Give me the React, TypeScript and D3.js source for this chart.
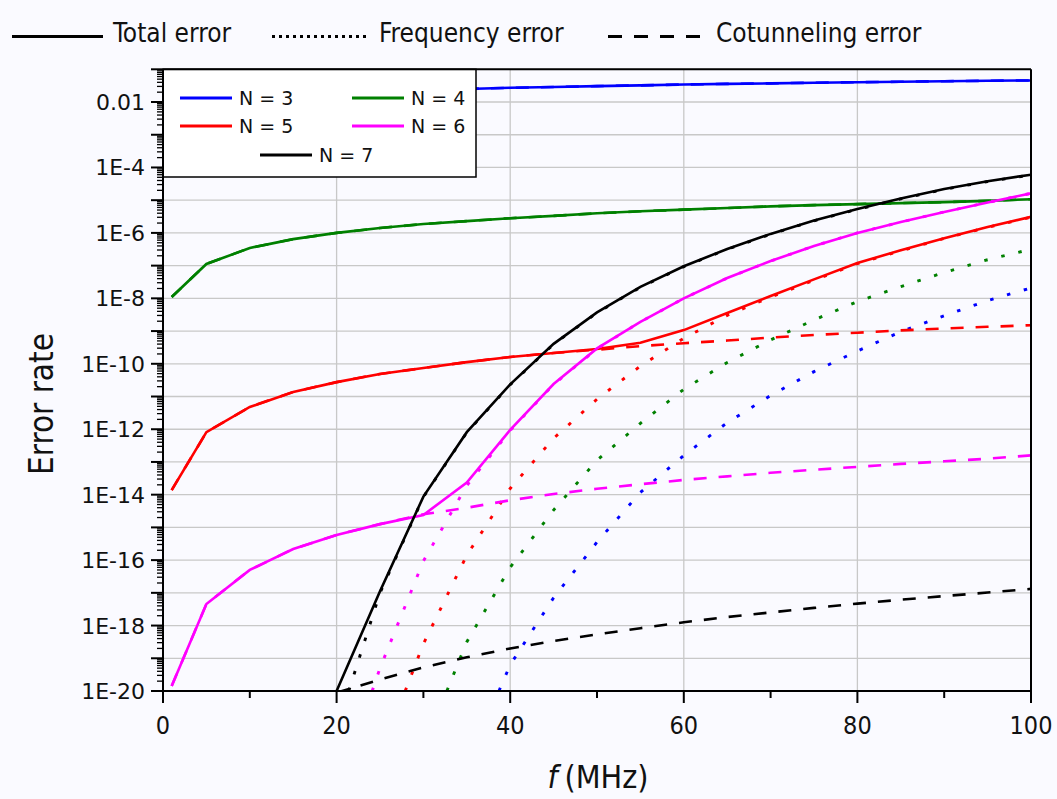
import * as d3 from 'd3';

// frequency grid (MHz) used by total / cotunneling curves
const fGrid = [1, 5, 10, 15, 20, 25, 30, 35, 40, 45, 50, 55, 60, 65, 70, 75, 80, 85, 90, 95, 100];
const fGrid7 = [20, 25, 30, 35, 40, 45, 50, 55, 60, 65, 70, 75, 80, 85, 90, 95, 100];

// all values are log10(error rate)
const total3 = [-2.9, -2.35, -2.1, -1.93, -1.82, -1.73, -1.66, -1.6, -1.565, -1.54, -1.515, -1.49, -1.465, -1.445, -1.43, -1.41, -1.395, -1.38, -1.365, -1.35, -1.34];
const total4 = [-7.96, -6.95, -6.46, -6.19, -6.0, -5.85, -5.73, -5.64, -5.55, -5.48, -5.4, -5.34, -5.29, -5.24, -5.19, -5.15, -5.12, -5.09, -5.06, -5.02, -4.97];
const total5 = [-13.86, -12.09, -11.32, -10.86, -10.56, -10.31, -10.13, -9.95, -9.79, -9.67, -9.55, -9.36, -8.97, -8.45, -7.93, -7.42, -6.92, -6.53, -6.16, -5.82, -5.51];
const total6 = [-19.85, -17.34, -16.3, -15.66, -15.23, -14.9, -14.62, -13.63, -12.02, -10.62, -9.53, -8.72, -8.0, -7.38, -6.86, -6.4, -6.0, -5.67, -5.36, -5.07, -4.79];
const total7 = [-20.0, -16.95, -14.06, -12.09, -10.63, -9.39, -8.43, -7.65, -7.02, -6.49, -6.03, -5.62, -5.27, -4.95, -4.66, -4.42, -4.22];

const cot3 = total3;
const cot4 = total4;
const cot5 = [-13.86, -12.09, -11.32, -10.86, -10.56, -10.31, -10.13, -9.95, -9.79, -9.67, -9.57, -9.46, -9.37, -9.29, -9.2, -9.12, -9.05, -8.98, -8.92, -8.87, -8.82];
const cot6 = [-19.85, -17.34, -16.3, -15.66, -15.23, -14.9, -14.6, -14.4, -14.17, -13.98, -13.82, -13.68, -13.55, -13.44, -13.33, -13.24, -13.15, -13.06, -12.98, -12.9, -12.8];
const cot7 = [-20.05, -19.65, -19.28, -18.97, -18.7, -18.47, -18.27, -18.08, -17.9, -17.74, -17.6, -17.46, -17.33, -17.21, -17.1, -16.99, -16.88];

const fFreq3 = [38.7, 40, 45, 50, 55, 60, 65, 70, 75, 80, 85, 90, 95, 100];
const freq3 = [-20, -19.2, -17.15, -15.45, -13.93, -12.8, -11.8, -10.97, -10.24, -9.61, -9.02, -8.53, -8.07, -7.68];
const fFreq4 = [32.7, 35, 40, 45, 50, 55, 60, 65, 70, 75, 80, 85, 90, 95, 100];
const freq4 = [-20, -18.5, -16.22, -14.47, -12.95, -11.82, -10.78, -9.96, -9.27, -8.66, -8.1, -7.64, -7.21, -6.82, -6.5];
const fFreq5 = [27.9, 30, 35, 40, 45, 50, 55, 60, 65, 70, 75, 80, 85, 90, 95, 100];
const freq5 = [-20, -18.56, -15.85, -13.81, -12.28, -11.08, -10.07, -9.22, -8.52, -7.96, -7.45, -6.94, -6.55, -6.17, -5.83, -5.52];
const fFreq6 = [24.1, 25, 30, 35, 40, 45, 50, 55, 60, 65, 70, 75, 80, 85, 90, 95, 100];
const freq6 = [-20, -19.3, -16.03, -13.72, -12.04, -10.63, -9.54, -8.72, -8.0, -7.38, -6.86, -6.4, -6.0, -5.67, -5.36, -5.07, -4.79];
const fFreq7 = [21.4, 25, 30, 35, 40, 45, 50, 55, 60, 65, 70, 75, 80, 85, 90, 95, 100];
const freq7 = [-20, -17.0, -14.07, -12.1, -10.64, -9.4, -8.44, -7.66, -7.03, -6.5, -6.04, -5.63, -5.28, -4.96, -4.67, -4.43, -4.23];

const seriesNames = ['N = 3', 'N = 4', 'N = 5', 'N = 6', 'N = 7'];
const seriesColors = ['#0000ff', '#008000', '#ff0000', '#ff00ff', '#000000'];

const xTicks = [0, 20, 40, 60, 80, 100];
const xMinorTicks = [10, 30, 50, 70, 90];
const yTickLabels = ['0.01', '1E-4', '1E-6', '1E-8', '1E-10', '1E-12', '1E-14', '1E-16', '1E-18', '1E-20'];
const yTickValues = [1e-2, 1e-4, 1e-6, 1e-8, 1e-10, 1e-12, 1e-14, 1e-16, 1e-18, 1e-20];

const W = 1057;
const H = 799;
const left = 163, right = 1031, top = 69.3, bottom = 691;

const x = d3.scaleLinear().domain([0, 100]).range([left, right]);
const y = d3.scaleLog().domain([1e-20, 0.1]).range([bottom, top]);

const line = d3.line<[number, number]>()
  .x(d => x(d[0]))
  .y(d => y(Math.pow(10, d[1])));

const zip = (fs: number[], vs: number[]) => fs.map((f, i) => [f, vs[i]] as [number, number]);

const series = [
  { total: zip(fGrid, total3), cot: zip(fGrid, cot3), freq: zip(fFreq3, freq3) },
  { total: zip(fGrid, total4), cot: zip(fGrid, cot4), freq: zip(fFreq4, freq4) },
  { total: zip(fGrid, total5), cot: zip(fGrid, cot5), freq: zip(fFreq5, freq5) },
  { total: zip(fGrid, total6), cot: zip(fGrid, cot6), freq: zip(fFreq6, freq6) },
  { total: zip(fGrid7, total7), cot: zip(fGrid7, cot7), freq: zip(fFreq7, freq7) },
];

const DOT = '3.5 14';
const DASH = '13 12';
const condensed = '"DejaVu Sans Condensed", "DejaVu Sans", sans-serif';

export default function App() {
  const decades = d3.range(-20, 0);
  const minor: number[] = [];
  decades.forEach(e => {
    for (let k = 2; k <= 9; k++) minor.push(k * Math.pow(10, e));
  });
  const legendPos = [
    { lx: 180, ty: 98 }, { lx: 352, ty: 98 },
    { lx: 180, ty: 126 }, { lx: 352, ty: 126 },
    { lx: 260, ty: 155 },
  ];

  return (
    <svg width={W} height={H} style={{ position: 'absolute', left: 0, top: 0 }}
      fontFamily='"DejaVu Sans", sans-serif'>
      <rect width={W} height={H} fill="#fafaff" />
      <defs>
        <clipPath id="plot">
          <rect x={left} y={top} width={right - left} height={bottom - top} />
        </clipPath>
      </defs>

      {/* grid */}
      <g stroke="#c8c8c8" strokeWidth={1.3}>
        {d3.range(-19, -1 + 1).map(e => (
          <line key={e} x1={left} x2={right} y1={y(Math.pow(10, e))} y2={y(Math.pow(10, e))} />
        ))}
        {[20, 40, 60, 80].map(v => (
          <line key={v} x1={x(v)} x2={x(v)} y1={top} y2={bottom} />
        ))}
      </g>

      {/* data */}
      <g clipPath="url(#plot)" fill="none" strokeWidth={2.6}>
        {series.map((s, i) => (
          <g key={i} stroke={seriesColors[i]}>
            <path d={line(s.freq) || ''} strokeDasharray={DOT} strokeWidth={2.9} />
            <path d={line(s.cot) || ''} strokeDasharray={DASH} />
            <path d={line(s.total) || ''} />
          </g>
        ))}
      </g>

      {/* inner legend */}
      <rect x={left} y={top} width={476 - left} height={177 - top} fill="#ffffff" stroke="#000" strokeWidth={1.5} />
      {seriesNames.map((n, i) => (
        <g key={n}>
          <line x1={legendPos[i].lx} x2={legendPos[i].lx + 52} y1={legendPos[i].ty} y2={legendPos[i].ty}
            stroke={seriesColors[i]} strokeWidth={2.8} />
          <text x={legendPos[i].lx + 59} y={legendPos[i].ty + 7} fontSize={19} fill="#111">{n}</text>
        </g>
      ))}

      {/* frame */}
      <g stroke="#000" strokeWidth={2} fill="none">
        <line x1={left} x2={right} y1={top} y2={top} />
        <line x1={right} x2={right} y1={top} y2={bottom} />
        <line x1={left} x2={right} y1={bottom} y2={bottom} />
        <line x1={left} x2={left} y1={top} y2={bottom} />
      </g>

      {/* y ticks */}
      <g stroke="#000" strokeWidth={1.3}>
        {d3.range(-20, 0).map(e => (
          <line key={e} x1={left - 12} x2={left} y1={y(Math.pow(10, e))} y2={y(Math.pow(10, e))} strokeWidth={2} />
        ))}
        {minor.filter(v => v <= 0.1).map((v, i) => (
          <line key={i} x1={left - 6} x2={left} y1={y(v)} y2={y(v)} />
        ))}
      </g>
      <g fontSize={22} textAnchor="end" fill="#111">
        {yTickValues.map((v, i) => (
          <text key={i} x={left - 18} y={y(v) + 8}>{yTickLabels[i]}</text>
        ))}
      </g>

      {/* x ticks */}
      <g stroke="#000" strokeWidth={2}>
        {xTicks.map(v => <line key={v} x1={x(v)} x2={x(v)} y1={bottom} y2={bottom + 12} />)}
        {xMinorTicks.map(v => <line key={v} x1={x(v)} x2={x(v)} y1={bottom + 1} y2={bottom + 7} />)}
      </g>
      <g fontSize={25} textAnchor="middle" fontFamily={condensed} fill="#111">
        {xTicks.map(v => <text key={v} x={x(v)} y={734}>{v}</text>)}
      </g>

      {/* axis titles */}
      <text x={598} y={788} fontSize={32} textAnchor="middle" fontFamily={condensed} fill="#111">
        <tspan fontStyle="italic">f</tspan>
        <tspan dx={7}>(MHz)</tspan>
      </text>
      <text transform={`translate(53,404) rotate(-90)`} fontSize={33} textAnchor="middle" fontFamily={condensed} fill="#111">
        Error rate
      </text>

      {/* top legend */}
      <g fontFamily={condensed} fontSize={26} fill="#111">
        <line x1={12} x2={103} y1={36.5} y2={36.5} stroke="#000" strokeWidth={3} />
        <text x={113} y={42}>Total error</text>
        <line x1={272} x2={369} y1={36.5} y2={36.5} stroke="#000" strokeWidth={3} strokeDasharray="3 4" />
        <text x={379} y={42}>Frequency error</text>
        <line x1={608} x2={702} y1={36.5} y2={36.5} stroke="#000" strokeWidth={3} strokeDasharray="14 12" />
        <text x={716} y={42}>Cotunneling error</text>
      </g>
    </svg>
  );
}
